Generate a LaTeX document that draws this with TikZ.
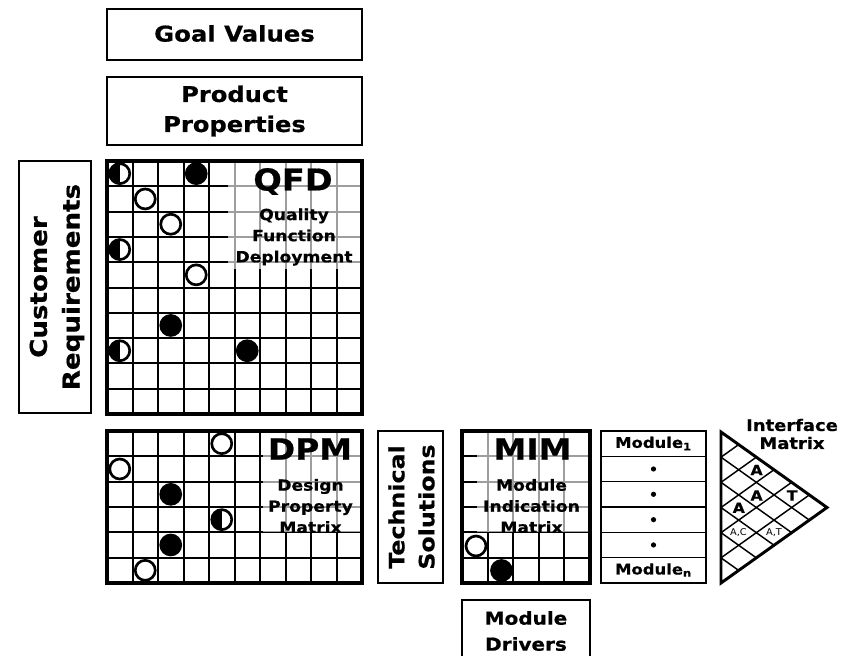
\documentclass[tikz,border=0pt]{standalone}
\usepackage{fontspec}
\setmainfont{DejaVu Sans}
\newfontfamily\lblfont{DejaVu Sans Bold}[FakeStretch=1.12,FakeBold=0.6]
\newfontfamily\thinfont{DejaVu Sans}[FakeStretch=1.05]
\usetikzlibrary{calc}
\newcommand\setfs[2]{\fontsize{#1}{#2}\selectfont}

\begin{document}
\begin{tikzpicture}[x=0.75pt,y=-0.75pt,
  box/.style={line width=2.2pt},
  frame/.style={line width=2.4pt},
  gridline/.style={line width=1.5pt},
  thinline/.style={line width=1.1pt},
  veil/.style={fill=white,fill opacity=0.62},
  dotline/.style={line width=2pt},
  lbl/.style 2 args={align=center,inner sep=0pt,font=\lblfont\setfs{#1}{#2}}]
\clip (0,0) rectangle (846,656);

% ---------- header boxes ----------
\draw[box] (107,9) rectangle (362,60);
\node[lbl={16.3}{22.5}] (goal) at (234.5,33.5) {Goal Values};
\draw[box] (107,77) rectangle (362,145);
\node[lbl={16.2}{22.5}] (prop) at (234.5,111) {Product\\Properties};

% ---------- customer requirements ----------
\draw[box] (19,161) rectangle (91,413);
\node[lbl={17.5}{24.5},rotate=90] (cust) at (57,287) {Customer\\Requirements};

% ---------- QFD matrix (10 x 10) ----------
\foreach \i in {1,...,9} {
  \draw[gridline] ({107+25.5*\i},161) -- ({107+25.5*\i},414);
  \draw[gridline] (107,{161+25.3*\i}) -- (362,{161+25.3*\i});
}
\fill[veil] (228,161) rectangle (362,269);
\draw[frame] (107,161) rectangle (362,414);
\foreach \c/\r in {1/1, 2/2, 3/4}
  \draw[dotline,fill=white] ({107+25.5*(\c+0.5)},{161+25.3*(\r+0.5)}) circle[radius=10];
\foreach \c/\r in {3/0, 2/6, 5/7}
  \filldraw[dotline] ({107+25.5*(\c+0.5)},{161+25.3*(\r+0.5)}) circle[radius=10];
\foreach \c/\r in {0/0, 0/3, 0/7} {
  \draw[dotline,fill=white] ({107+25.5*(\c+0.5)},{161+25.3*(\r+0.5)}) circle[radius=10];
  \fill ({107+25.5*(\c+0.5)},{161+25.3*(\r+0.5)-10}) arc[start angle=270,end angle=90,radius=10] -- cycle;
}
\node[lbl={22.5}{26}] (qfd) at (293,181.5) {QFD};
\node[lbl={11.5}{15.8}] (qfdsub) at (294,237) {Quality\\Function\\Deployment};

% ---------- DPM matrix (10 x 6) ----------
\foreach \i in {1,...,9}
  \draw[gridline] ({107+25.5*\i},431) -- ({107+25.5*\i},583);
\foreach \j in {1,...,5}
  \draw[gridline] (107,{431+25.33*\j}) -- (362,{431+25.33*\j});
\fill[veil] (263,431) rectangle (362,532.3);
\draw[frame] (107,431) rectangle (362,583);
\foreach \c/\r in {4/0, 0/1, 1/5}
  \draw[dotline,fill=white] ({107+25.5*(\c+0.5)},{431+25.33*(\r+0.5)}) circle[radius=10];
\foreach \c/\r in {2/2, 2/4}
  \filldraw[dotline] ({107+25.5*(\c+0.5)},{431+25.33*(\r+0.5)}) circle[radius=10];
\foreach \c/\r in {4/3} {
  \draw[dotline,fill=white] ({107+25.5*(\c+0.5)},{431+25.33*(\r+0.5)}) circle[radius=10];
  \fill ({107+25.5*(\c+0.5)},{431+25.33*(\r+0.5)-10}) arc[start angle=270,end angle=90,radius=10] -- cycle;
}
\node[lbl={22}{26}] (dpm) at (310,449) {DPM};
\node[lbl={11.5}{15.8}] (dpmsub) at (310.5,506) {Design\\Property\\Matrix};

% ---------- technical solutions ----------
\draw[box] (378,431) rectangle (443,583);
\node[lbl={15.9}{22.5},rotate=90] (tech) at (411.5,507) {Technical\\Solutions};

% ---------- MIM matrix (5 x 6) ----------
\foreach \i in {1,...,4}
  \draw[gridline] ({462+25.6*\i},431) -- ({462+25.6*\i},583);
\foreach \j in {1,...,5}
  \draw[gridline] (462,{431+25.33*\j}) -- (590,{431+25.33*\j});
\fill[veil] (477,431) rectangle (590,532.3);
\draw[frame] (462,431) rectangle (590,583);
\draw[dotline,fill=white] (476,546) circle[radius=10];
\filldraw[dotline] (501.5,570.5) circle[radius=10];
\node[lbl={22}{26}] (mim) at (532.5,449) {MIM};
\node[lbl={11.5}{15.8}] (mimsub) at (531.5,506) {Module\\Indication\\Matrix};

% ---------- module drivers ----------
\draw[box] (462,600) rectangle (590,700);
\node[lbl={13.4}{19.5}] (drivers) at (526,631) {Module\\Drivers};

% ---------- module list ----------
\foreach \j in {1,...,5}
  \draw[thinline] (601,{431+25.33*\j}) -- (706,{431+25.33*\j});
\draw[box] (601,431) rectangle (706,583);
\node[lbl={11}{13}] (mod1) at (653.5,443.5) {Module\textsubscript{1}};
\foreach \j in {1,...,4}
  \fill (653.5,{431+25.33*(\j+0.5)}) circle[radius=2.6];
\node[lbl={11}{13}] (modn) at (653.5,570) {Module\textsubscript{n}};

% ---------- interface matrix (triangle) ----------
\coordinate (tA) at (721,432);
\coordinate (tB) at (721,583);
\coordinate (tC) at (827,507.5);
\foreach \k in {1,...,5} {
  \draw[thinline] ($(tA)!{\k/6}!(tB)$) -- ($(tB)!{(6-\k)/6}!(tC)$);
  \draw[thinline] ($(tA)!{\k/6}!(tB)$) -- ($(tA)!{\k/6}!(tC)$);
}
\draw[box,line join=miter] (tA) -- (tB) -- (tC) -- cycle;
\node[lbl={12}{13.5}] (ifm) at (792,434) {Interface\\Matrix};
\node[lbl={10.5}{12}] (a13) at (756.6,470) {A};
\node[lbl={10.5}{12}] (a24) at (756.6,495.5) {A};
\node[lbl={10.5}{12}] (t15) at (792.2,495.5) {T};
\node[lbl={10.5}{12}] (a34) at (738.8,507.8) {A};
\node[inner sep=0pt,font=\thinfont\setfs{7}{8}] (ac45) at (738.5,533) {A,C};
\node[inner sep=0pt,font=\thinfont\setfs{7}{8}] (at36) at (774,533) {A,T};
\end{tikzpicture}
\end{document}
